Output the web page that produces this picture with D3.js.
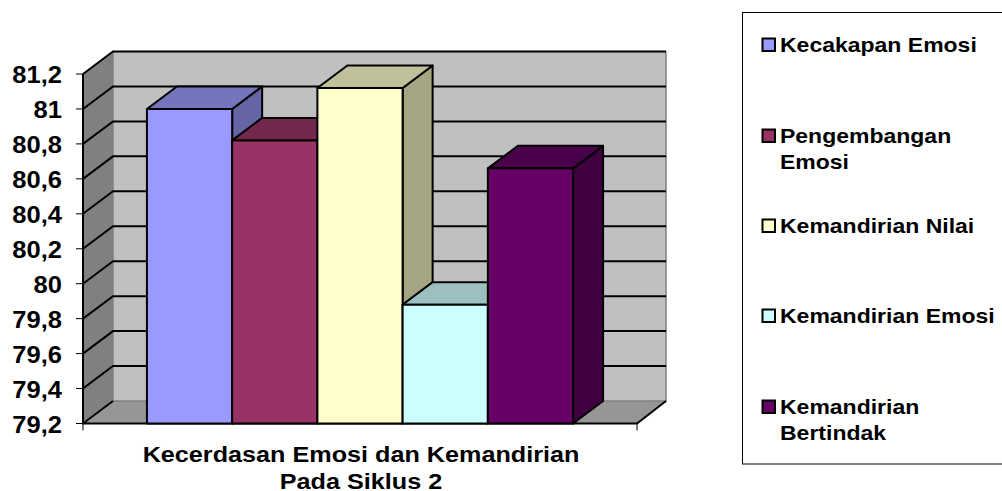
<!DOCTYPE html>
<html>
<head>
<meta charset="utf-8">
<script src="https://cdn.jsdelivr.net/npm/d3@7"></script>
<style>
  html, body { margin: 0; padding: 0; background: #fff; }
  svg { display: block; }
  text { font-family: "Liberation Sans", Arial, sans-serif; font-weight: bold; fill: #000; }
</style>
</head>
<body>
<svg width="1002" height="491"></svg>
<script>
const categories = ["Kecakapan Emosi", "Pengembangan Emosi", "Kemandirian Nilai", "Kemandirian Emosi", "Kemandirian Bertindak"];
const values = [81.0, 80.82, 81.12, 79.88, 80.66];
const tickValues = [79.2, 79.4, 79.6, 79.8, 80, 80.2, 80.4, 80.6, 80.8, 81, 81.2];
const titleLines = ["Kecerdasan Emosi dan Kemandirian", "Pada Siklus 2"];
const frontColors = ["#9999ff", "#993366", "#ffffcc", "#ccffff", "#660066"];
const topColors = ["#7575bd", "#75284e", "#c0c09a", "#9cc0c0", "#4b004b"];
const sideColors = ["#6565a5", "#642142", "#a5a583", "#85a5a5", "#400040"];
const legendLines = [["Kecakapan Emosi"], ["Pengembangan", "Emosi"], ["Kemandirian Nilai"], ["Kemandirian Emosi"], ["Kemandirian", "Bertindak"]];
const legendBaselines = [52, 143, 233, 323, 414];

// depth of the fake 3d box
const dx = 30, dy = 22.5;

let svg = d3.select("svg");

let x = d3.scaleBand().domain(categories).range([83, 637]).paddingInner(0).paddingOuter(0.75);
let y = d3.scaleLinear().domain([79.2, 81.2]).range([423.5, 74]);

let x0 = 83, x1 = 637, y0 = y(79.2), yTop = y(81.2);
let poly = pts => "M" + pts.map(p => p.join(",")).join("L") + "Z";

// walls and floor
svg.append("path")
    .attr("d", poly([[x0 + dx, yTop - dy], [x1 + dx - 1, yTop - dy], [x1 + dx - 1, y0 - dy], [x0 + dx, y0 - dy]]))
    .attr("fill", "#c0c0c0");
svg.append("path")
    .attr("d", poly([[x0, yTop], [x0 + dx, yTop - dy], [x0 + dx, y0 - dy], [x0, y0]]))
    .attr("fill", "#808080");
svg.append("path")
    .attr("d", poly([[x0, y0], [x0 + dx, y0 - dy], [x1 + dx - 1, y0 - dy], [x1, y0]]))
    .attr("fill", "#969696");

// edges of the walls
svg.append("path")
    .attr("d", `M${x0 + dx},${yTop - dy}V${y0 - dy}H${x1 + dx - 1}V${yTop - dy}`)
    .attr("fill", "none").attr("stroke", "#808080").attr("stroke-width", 1.5);

// gridlines run along the side wall and the back wall
svg.selectAll(".grid")
    .data(tickValues)
    .enter().append("path")
    .classed("grid", true)
    .attr("d", d => d === 79.2
      ? `M${x0},${y(d)}L${x0 + dx},${y(d) - dy}`
      : `M${x0},${y(d)}L${x0 + dx},${y(d) - dy}H${x1 + dx - 1}`)
    .attr("fill", "none")
    .attr("stroke", "#000")
    .attr("stroke-width", 2);

// axis lines and tick marks
svg.append("path")
    .attr("d", `M${x0},${yTop}V${y0}H${x1}L${x1 + dx - 1},${y0 - dy}`)
    .attr("fill", "none").attr("stroke", "#000").attr("stroke-width", 2);
svg.selectAll(".tickY")
    .data(tickValues)
    .enter().append("line")
    .classed("tickY", true)
    .attr("x1", x0 - 7).attr("x2", x0)
    .attr("y1", d => y(d)).attr("y2", d => y(d))
    .attr("stroke", "#000").attr("stroke-width", 1);
svg.selectAll(".tickX")
    .data([x0, x1])
    .enter().append("line")
    .classed("tickX", true)
    .attr("x1", d => d).attr("x2", d => d)
    .attr("y1", y0).attr("y2", y0 + 7)
    .attr("stroke", "#000").attr("stroke-width", 1);

// tick labels
svg.selectAll(".tickLabel")
    .data(tickValues)
    .enter().append("text")
    .classed("tickLabel", true)
    .attr("transform", d => `translate(62,${y(d) + 9}) scale(1.11,1)`)
    .attr("text-anchor", "end")
    .attr("font-size", 23)
    .text(d => String(d).replace(".", ","));

// bars, painted left to right so each one covers the side of the last
let bars = svg.selectAll(".bar")
    .data(categories.map((c, i) => ({ c, i, v: values[i] })))
    .enter().append("g")
    .classed("bar", true);

bars.append("path")
    .attr("d", d => {
      let l = x(d.c) + x.bandwidth(), t = y(d.v);
      return poly([[l, t], [l + dx, t - dy], [l + dx, y0 - dy], [l, y0]]);
    })
    .attr("fill", d => sideColors[d.i]);
bars.append("path")
    .attr("d", d => {
      let l = x(d.c), r = l + x.bandwidth(), t = y(d.v);
      return poly([[l, t], [l + dx, t - dy], [r + dx, t - dy], [r, t]]);
    })
    .attr("fill", d => topColors[d.i]);
bars.append("rect")
    .attr("x", d => x(d.c))
    .attr("y", d => y(d.v))
    .attr("width", x.bandwidth())
    .attr("height", d => y0 - y(d.v))
    .attr("fill", d => frontColors[d.i]);
bars.selectAll("path, rect")
    .attr("stroke", "#000")
    .attr("stroke-width", 2)
    .attr("stroke-linejoin", "round");

// axis title
svg.selectAll(".title")
    .data(titleLines)
    .enter().append("text")
    .classed("title", true)
    .attr("transform", (d, i) => `translate(361,${461.5 + i * 27.5}) scale(1.12,1)`)
    .attr("text-anchor", "middle")
    .attr("font-size", 22.5)
    .text(d => d);

// legend
svg.append("rect")
    .attr("x", 742.5).attr("y", 12.5)
    .attr("width", 270).attr("height", 451.5)
    .attr("fill", "#fff").attr("stroke", "#000").attr("stroke-width", 1);

let items = svg.selectAll(".legendItem")
    .data(legendLines)
    .enter().append("g")
    .classed("legendItem", true)
    .attr("transform", (d, i) => "translate(0," + legendBaselines[i] + ")");

items.append("rect")
    .attr("x", 762.5).attr("y", -13.5)
    .attr("width", 12.5).attr("height", 12.5)
    .attr("fill", (d, i) => frontColors[i])
    .attr("stroke", "#000").attr("stroke-width", 2);

items.selectAll("text")
    .data(d => d)
    .enter().append("text")
    .attr("transform", (d, i) => `translate(780,${i * 25.5}) scale(1.095,1)`)
    .attr("font-size", 21)
    .text(d => d);
</script>
</body>
</html>
